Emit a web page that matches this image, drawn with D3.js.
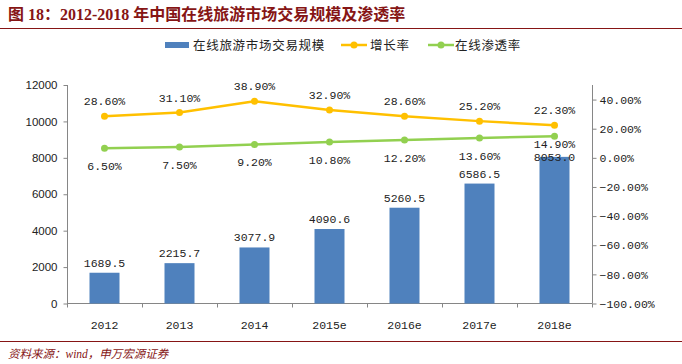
<!DOCTYPE html>
<html><head><meta charset="utf-8">
<script src="https://cdn.jsdelivr.net/npm/d3@7/dist/d3.min.js"></script>
<style>
html,body{margin:0;padding:0;background:#fff;}
svg{display:block;}
</style></head>
<body>
<svg id="chart" width="682" height="364"></svg>
<script>
const categories = ["2012","2013","2014","2015e","2016e","2017e","2018e"];
const marketScale = [1689.5, 2215.7, 3077.9, 4090.6, 5260.5, 6586.5, 8053.0];
const growthRate = [28.6, 31.1, 38.9, 32.9, 28.6, 25.2, 22.3];
const penetrationRate = [6.5, 7.5, 9.2, 10.8, 12.2, 13.6, 14.9];
const leftTicks = [0,2000,4000,6000,8000,10000,12000];
const rightTicks = [-100,-80,-60,-40,-20,0,20,40];
const seriesNames = ["在线旅游市场交易规模","增长率","在线渗透率"];
const titleText = "图 18：2012-2018 年中国在线旅游市场交易规模及渗透率";
const sourceText = "资料来源：wind，申万宏源证券";

const svg = d3.select("#chart");
const dark = "#861515";
const axisCol = "#868686";
const blue = "#4F81BD", yellow = "#FFC000", green = "#92D050";
const monoFont = "'Liberation Mono', 'Noto Sans CJK SC', monospace";
const sansFont = "'Liberation Sans', Arial, sans-serif";
const lastIdx = categories.length - 1;

// Title
svg.append("text").attr("x", 8).attr("y", 20)
  .attr("font-family", "'Liberation Serif', 'Noto Sans CJK SC', serif")
  .attr("font-weight", "bold").attr("font-size", 16).attr("fill", dark)
  .text(titleText);
svg.append("line").attr("x1", 0).attr("x2", 682).attr("y1", 28.5).attr("y2", 28.5)
  .attr("stroke", dark).attr("stroke-width", 1.2);

// Scales
const x = d3.scaleBand().domain(categories).range([67, 592]).paddingInner(0.6).paddingOuter(0.3);
const yL = d3.scaleLinear().domain([0, 12000]).range([303.5, 85]);
const yR = d3.scaleLinear().domain([-100, 50]).range([303.5, 85]);
const cx = d => x(d) + x.bandwidth() / 2;

// Left axis
const gL = svg.append("g").attr("transform", "translate(67.5,0)")
  .call(d3.axisLeft(yL).tickValues(leftTicks).tickSize(4).tickSizeOuter(0).tickFormat(d3.format("d")));
gL.select(".domain").attr("stroke", axisCol).attr("d", `M0,${yL(12000)}V${yL(0)}`);
gL.selectAll(".tick line").attr("stroke", axisCol);
gL.selectAll(".tick text").attr("font-family", sansFont).attr("font-size", 11.5).attr("fill", "#222").attr("x", -10);

// Right axis
const gR = svg.append("g").attr("transform", "translate(592.5,0)")
  .call(d3.axisRight(yR).tickValues(rightTicks).tickSize(4).tickSizeOuter(0).tickFormat(d => d3.format(".2f")(d) + "%"));
gR.select(".domain").attr("stroke", axisCol).attr("d", `M0,${yR(50)}V${yR(-100)}`);
gR.selectAll(".tick line").attr("stroke", axisCol);
gR.selectAll(".tick text").attr("font-family", monoFont).attr("font-size", 11.5).attr("fill", "#222").attr("x", 7)
  .text(d => (d < 0 ? "\u2212" : "") + d3.format(".2f")(Math.abs(d)) + "%");

// Bottom axis
const gB = svg.append("g").attr("transform", `translate(0,${yL(0)})`);
gB.append("line").attr("x1", 67).attr("x2", 592).attr("stroke", axisCol);
const bounds = d3.range(categories.length + 1).map(i => x.range()[0] + i * x.step());
gB.selectAll("line.tk").data(bounds).join("line").attr("class", "tk")
  .attr("x1", d => Math.round(d) + 0.5).attr("x2", d => Math.round(d) + 0.5).attr("y1", 0).attr("y2", 4).attr("stroke", axisCol);
gB.selectAll("text").data(categories).join("text")
  .attr("x", d => cx(d)).attr("y", 25).attr("text-anchor", "middle")
  .attr("font-family", monoFont).attr("font-size", 11.5).attr("fill", "#222").text(d => d);

// Bars
const barW = 30;
svg.append("g").selectAll("rect").data(categories).join("rect")
  .attr("x", d => cx(d) - barW / 2).attr("width", barW)
  .attr("y", (d, i) => yL(marketScale[i])).attr("height", (d, i) => yL(0) - yL(marketScale[i]))
  .attr("fill", blue);
svg.append("g").selectAll("text").data(categories).join("text")
  .attr("x", d => cx(d)).attr("y", (d, i) => i === lastIdx ? yL(marketScale[i]) + 4 : yL(marketScale[i]) - 6)
  .attr("text-anchor", "middle").attr("font-family", monoFont).attr("font-size", 11.5).attr("fill", "#222")
  .text((d, i) => d3.format(".1f")(marketScale[i]));

// Lines
function drawLine(values, color, labelDy, lastDy) {
  const line = d3.line().x((d, i) => cx(categories[i])).y(d => yR(d));
  svg.append("path").datum(values).attr("d", line).attr("fill", "none")
    .attr("stroke", color).attr("stroke-width", 2.5).attr("stroke-linejoin", "round");
  svg.append("g").selectAll("circle").data(values).join("circle")
    .attr("cx", (d, i) => cx(categories[i])).attr("cy", d => yR(d)).attr("r", 3.5).attr("fill", color);
  svg.append("g").selectAll("text").data(values).join("text")
    .attr("x", (d, i) => cx(categories[i])).attr("y", (d, i) => yR(d) + (i === lastIdx ? lastDy : labelDy))
    .attr("text-anchor", "middle").attr("font-family", monoFont).attr("font-size", 11.5).attr("fill", "#222")
    .text(d => d3.format(".2f")(d) + "%");
}
drawLine(growthRate, yellow, -11, -11);
drawLine(penetrationRate, green, 22, 11.5);

// Legend
const lg = svg.append("g").attr("font-family", "'Noto Sans CJK SC', sans-serif").attr("font-size", 12.5).attr("fill", "#222");
lg.append("rect").attr("x", 165).attr("y", 42).attr("width", 24).attr("height", 6).attr("fill", blue);
lg.append("text").attr("x", 193).attr("y", 50).attr("letter-spacing", 0.7).text(seriesNames[0]);
[[341, yellow, seriesNames[1], 370], [428, green, seriesNames[2], 455]].forEach(([lx, c, t, tx]) => {
  lg.append("line").attr("x1", lx).attr("x2", lx + 26).attr("y1", 45).attr("y2", 45).attr("stroke", c).attr("stroke-width", 2.5);
  lg.append("circle").attr("cx", lx + 13).attr("cy", 45).attr("r", 3.5).attr("fill", c);
  lg.append("text").attr("x", tx).attr("y", 50).attr("letter-spacing", 0.7).text(t);
});

// Footer
svg.append("line").attr("x1", 0).attr("x2", 682).attr("y1", 341.5).attr("y2", 341.5)
  .attr("stroke", dark).attr("stroke-width", 1.2);
svg.append("text").attr("x", 8).attr("y", 358)
  .attr("font-family", "'Liberation Serif', 'Noto Sans CJK SC', serif").attr("font-style", "italic")
  .attr("font-size", 11.5).attr("fill", dark).text(sourceText);
</script>
</body></html>
